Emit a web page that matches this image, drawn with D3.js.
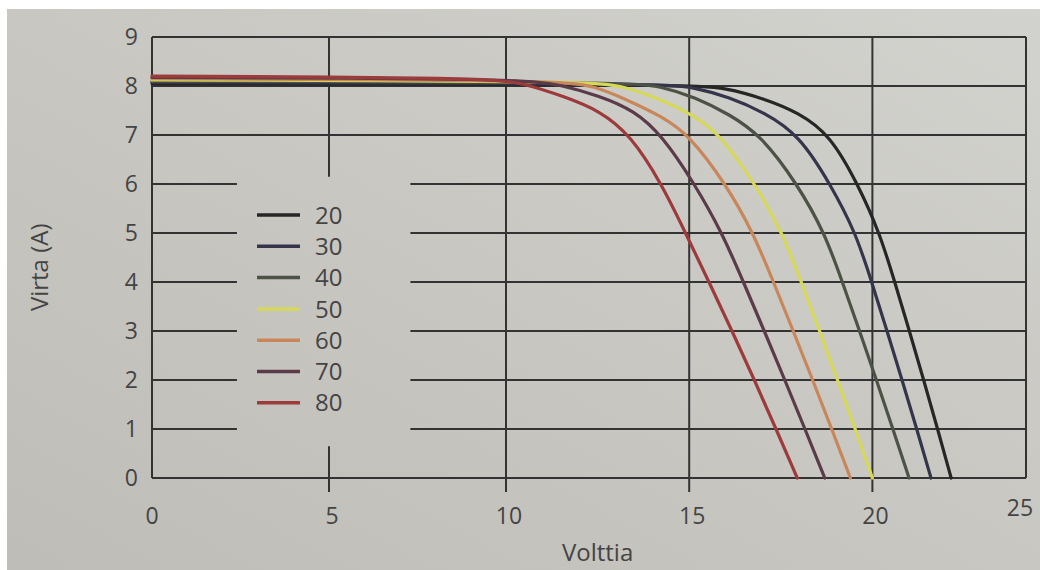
<!DOCTYPE html>
<html>
<head>
<meta charset="utf-8">
<script src="https://cdn.jsdelivr.net/npm/d3@7"></script>
<style>
  body { margin: 0; background: #ffffff; }
  svg { display: block; }
</style>
</head>
<body>
<svg id="chart" width="1040" height="570"></svg>
<script>
// Module temperatures (°C), one I–V curve each
const temperatures = [20, 30, 40, 50, 60, 70, 80];

// I–V curves: [voltage (V), current (A)]
const curve20 = [[0, 8.05], [15.0, 8.03], [16.0, 7.96], [17.05, 7.74], [17.98, 7.46], [18.85, 7.0], [19.6, 6.0], [20.2, 5.0], [20.61, 4.0], [21.01, 3.0], [21.4, 2.0], [21.78, 1.0], [22.15, 0]];
const curve30 = [[0, 8.075], [14.2, 8.05], [15.1, 7.98], [16.1, 7.77], [17.05, 7.46], [18.0, 7.0], [18.85, 6.0], [19.55, 5.0], [19.98, 4.0], [20.4, 3.0], [20.81, 2.0], [21.21, 1.0], [21.6, 0]];
const curve40 = [[0, 8.1], [13.3, 8.08], [14.2, 8.0], [15.17, 7.77], [16.1, 7.42], [16.95, 7.0], [17.95, 6.0], [18.7, 5.0], [19.18, 4.0], [19.65, 3.0], [20.11, 2.0], [20.56, 1.0], [21.0, 0]];
const curve50 = [[0, 8.125], [12.3, 8.1], [13.2, 8.0], [14.25, 7.72], [15.17, 7.38], [15.85, 7.0], [16.8, 6.0], [17.55, 5.0], [18.06, 4.0], [18.56, 3.0], [19.05, 2.0], [19.53, 1.0], [20.0, 0]];
const curve60 = [[0, 8.15], [11.5, 8.12], [12.4, 8.0], [13.3, 7.72], [14.25, 7.38], [15.0, 7.0], [16.0, 6.0], [16.75, 5.0], [17.3, 4.0], [17.84, 3.0], [18.37, 2.0], [18.89, 1.0], [19.4, 0]];
const curve70 = [[0, 8.175], [10.5, 8.15], [11.5, 8.02], [12.55, 7.8], [13.5, 7.5], [14.25, 7.0], [15.15, 6.0], [15.9, 5.0], [16.48, 4.0], [17.05, 3.0], [17.61, 2.0], [18.16, 1.0], [18.7, 0]];
const curve80 = [[0, 8.2], [9.5, 8.17], [10.5, 8.05], [11.6, 7.78], [12.55, 7.5], [13.4, 7.0], [14.25, 6.0], [14.9, 5.0], [15.54, 4.0], [16.17, 3.0], [16.78, 2.0], [17.37, 1.0], [17.95, 0]];

const curves = [curve20, curve30, curve40, curve50, curve60, curve70, curve80];
const curveColors = ["#262626", "#34354a", "#4d5246", "#d6d957", "#c7875a", "#5b3a4a", "#9c3a3c"];

// Axis ticks
const xTicks = [0, 5, 10, 15, 20, 25];
const yTicks = [0, 1, 2, 3, 4, 5, 6, 7, 8, 9];

const xTitle = "Volttia";
const yTitle = "Virta (A)";

const svg = d3.select("#chart");
const W = 1040, H = 570;

// paper background
const defs = svg.append("defs");
const grad = defs.append("linearGradient").attr("id", "paper")
  .attr("x1", "0").attr("y1", "1").attr("x2", "1").attr("y2", "0");
grad.append("stop").attr("offset", "0").attr("stop-color", "#bebdb7");
grad.append("stop").attr("offset", "0.5").attr("stop-color", "#c8c7c2");
grad.append("stop").attr("offset", "1").attr("stop-color", "#d2d2ce");
svg.append("rect").attr("x", 7).attr("y", 9).attr("width", W - 7).attr("height", H - 9)
  .attr("fill", "url(#paper)");

// scales (the voltage axis is slightly compressed past the last curve)
const x = d3.scaleLinear().domain([0, 10, 22.2, 25]).range([152, 506, 953, 1026]);
const y = d3.scaleLinear().domain([0, 9]).range([478, 37]);

const gridColor = "#333333";
const grid = svg.append("g").attr("stroke", gridColor).attr("stroke-width", 2).attr("fill", "none");

// horizontal grid lines; lines 1–6 leave room for the legend
const legendGap = [2.4, 7.3];
yTicks.forEach(v => {
  const segs = (v >= 1 && v <= 6) ? [[0, legendGap[0]], [legendGap[1], 25]] : [[0, 25]];
  segs.forEach(([a, b]) => {
    grid.append("line").attr("x1", x(a)).attr("x2", x(b)).attr("y1", y(v)).attr("y2", y(v));
  });
});

// vertical grid lines with ticks below the axis
const tickLen = 14;
xTicks.forEach(v => {
  if (v === 0 || v === 25) {
    grid.append("line").attr("x1", x(v)).attr("x2", x(v)).attr("y1", y(0)).attr("y2", y(9));
  } else if (v === 5) {
    grid.append("line").attr("x1", x(v)).attr("x2", x(v)).attr("y1", y(9)).attr("y2", y(6.15));
    grid.append("line").attr("x1", x(v)).attr("x2", x(v)).attr("y1", y(0.65)).attr("y2", y(0) + tickLen);
  } else {
    grid.append("line").attr("x1", x(v)).attr("x2", x(v)).attr("y1", y(9)).attr("y2", y(0) + tickLen);
  }
});

// I–V curves
const line = d3.line().x(d => x(d[0])).y(d => y(d[1])).curve(d3.curveBasis);
const curveG = svg.append("g").attr("fill", "none").attr("stroke-width", 3.2).attr("stroke-linecap", "round");
curves.forEach((c, i) => {
  curveG.append("path").attr("d", line(c)).attr("stroke", curveColors[i]);
});

// tick labels
const font = "'Open Sans', 'Noto Sans', sans-serif";
const textColor = "#444444";
const yLab = svg.append("g").attr("font-family", font).attr("font-size", 23).attr("fill", textColor)
  .attr("text-anchor", "end");
yTicks.forEach(v => {
  yLab.append("text").attr("x", x(0) - 14).attr("y", y(v)).attr("dy", "0.36em").text(v);
});
const xLab = svg.append("g").attr("font-family", font).attr("font-size", 23).attr("fill", textColor)
  .attr("text-anchor", "middle");
xTicks.forEach(v => {
  const dx = v === 0 ? 0 : (v === 25 ? -6 : 3);
  const dy = v === 25 ? -8 : 0;
  xLab.append("text").attr("x", x(v) + dx).attr("y", y(0) + 46 + dy).text(v);
});

// axis titles
svg.append("text").attr("x", x(12.5)).attr("y", 561).attr("text-anchor", "middle")
  .attr("font-family", font).attr("font-size", 24).attr("fill", textColor).text(xTitle);
svg.append("text").attr("transform", `translate(48,${y(4.3)}) rotate(-90)`).attr("text-anchor", "middle")
  .attr("font-family", font).attr("font-size", 24).attr("fill", textColor).text(yTitle);

// legend
const legend = svg.append("g").attr("font-family", font).attr("font-size", 24).attr("fill", textColor);
temperatures.forEach((t, i) => {
  const ly = 215 + i * 31.3;
  legend.append("line").attr("x1", 257).attr("x2", 300).attr("y1", ly).attr("y2", ly)
    .attr("stroke", curveColors[i]).attr("stroke-width", 3.5);
  legend.append("text").attr("x", 315).attr("y", ly).attr("dy", "0.36em").text(t);
});
</script>
</body>
</html>
